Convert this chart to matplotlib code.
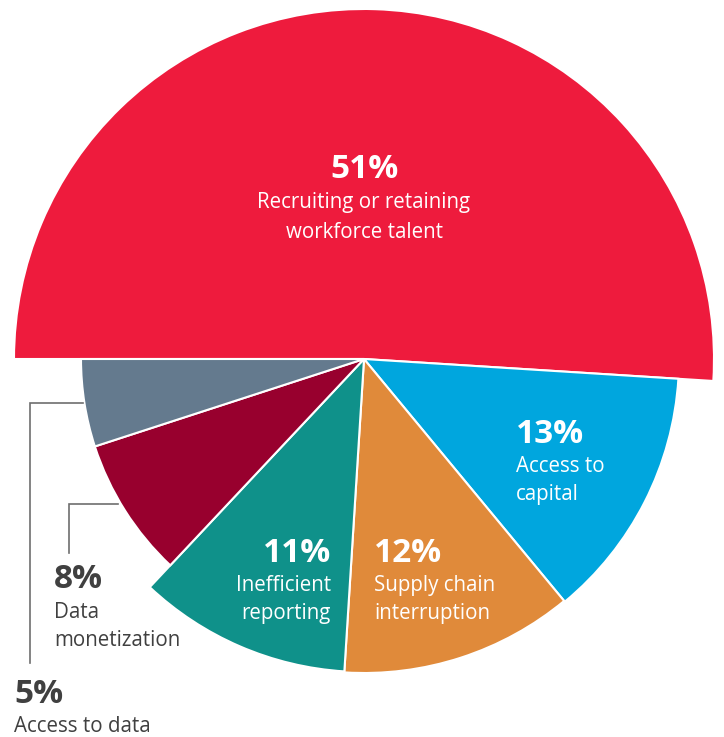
import numpy as np
import matplotlib.pyplot as plt
from matplotlib.patches import Wedge

plt.rcParams['font.family'] = ['Open Sans', 'DejaVu Sans']

categories = ["Recruiting or retaining\nworkforce talent", "Access to\ncapital",
              "Supply chain\ninterruption", "Inefficient\nreporting",
              "Data\nmonetization", "Access to data"]
shares = [51, 13, 12, 11, 8, 5]

colors = ["#EE1B3D", "#00A6DE", "#E08A3A", "#0F918A", "#98002E", "#647A8E"]
radii = [350, 315, 314, 313, 283, 283]

W, H = 724, 737
cx, cy = 364, H - 359

fig = plt.figure(figsize=(W / 100, H / 100), dpi=100)
ax = fig.add_axes([0, 0, 1, 1])
ax.set_xlim(0, W)
ax.set_ylim(0, H)
ax.axis('off')

# slices run clockwise from 9 o'clock
angles = 180 - np.cumsum([0] + shares) * 3.6
for i, v in enumerate(shares):
    ax.add_patch(Wedge((cx, cy), radii[i], angles[i + 1], angles[i],
                       facecolor=colors[i], edgecolor='white', linewidth=1.5))

dark = "#404040"


def label(x, y_pct, y_lines, pct, text, color, ha='left'):
    # y values given from the top edge, as baselines
    ax.text(x, H - y_pct, f"{pct}%", ha=ha, va='baseline', fontsize=24,
            fontweight='bold', color=color)
    for yl, line in zip(y_lines, text.split("\n")):
        ax.text(x, H - yl, line, ha=ha, va='baseline', fontsize=14.8, color=color)


label(364, 178, [208, 238], shares[0], categories[0], 'white', ha='center')
label(516, 443, [472, 500], shares[1], categories[1], 'white')
label(374, 562, [591, 619], shares[2], categories[2], 'white')
label(331, 562, [591, 619], shares[3], categories[3], 'white', ha='right')
label(54, 588, [618, 646], shares[4], categories[4], dark)
label(14, 703, [732], shares[5], categories[5], dark)

# leader lines for the two small slices
ax.plot([118, 69, 69], [H - 504, H - 504, H - 553], color="#6e6e6e", lw=1.2,
        solid_joinstyle='miter')
ax.plot([83, 30, 30], [H - 403, H - 403, H - 663], color="#6e6e6e", lw=1.2,
        solid_joinstyle='miter')

fig.savefig("out.png", dpi=100)
